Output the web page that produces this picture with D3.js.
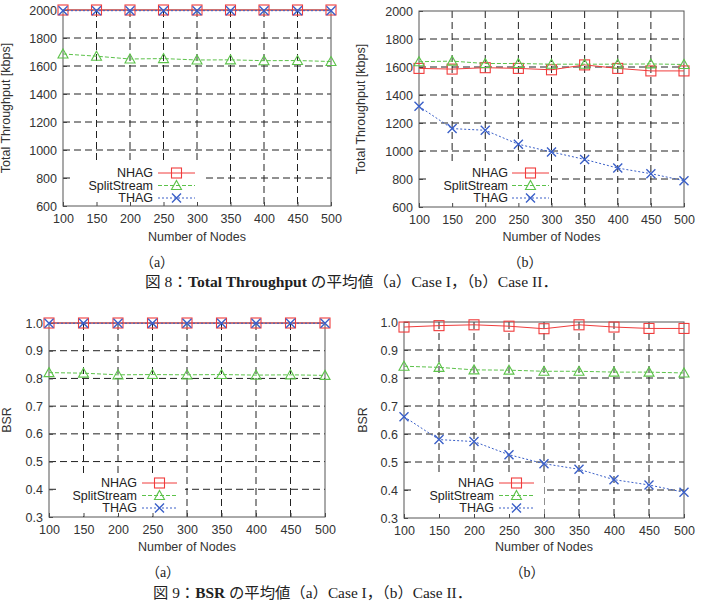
<!DOCTYPE html>
<html>
<head>
<meta charset="utf-8">
<script src="https://cdn.jsdelivr.net/npm/d3@7"></script>
<style>
body{margin:0;background:#fff;}
svg{display:block;}
</style>
</head>
<body>
<script>
var W = 702, H = 615;

var nodes = [100,150,200,250,300,350,400,450,500];
var seriesNames = ["NHAG","SplitStream","THAG"];

// Fig 8 (a) Case I
var thrA_nhag  = [2000,2000,2000,2000,2000,2000,2000,2000,2000];
var thrA_split = [1686,1670,1650,1653,1643,1644,1638,1639,1632];
var thrA_thag  = [1995,1995,1995,1995,1995,1995,1995,1995,1995];
// Fig 8 (b) Case II
var thrB_nhag  = [1590,1585,1595,1590,1580,1615,1590,1572,1572];
var thrB_split = [1638,1642,1625,1625,1620,1620,1620,1622,1618];
var thrB_thag  = [1319,1160,1148,1048,993,940,878,838,788];
// Fig 9 (a) Case I
var bsrA_nhag  = [1.0,1.0,1.0,1.0,1.0,1.0,1.0,1.0,1.0];
var bsrA_split = [0.821,0.819,0.813,0.814,0.813,0.814,0.812,0.813,0.811];
var bsrA_thag  = [0.999,0.999,0.999,0.999,0.999,0.999,0.999,0.999,0.999];
// Fig 9 (b) Case II
var bsrB_nhag  = [0.982,0.987,0.99,0.985,0.976,0.99,0.982,0.977,0.977];
var bsrB_split = [0.842,0.838,0.829,0.828,0.824,0.824,0.821,0.821,0.818];
var bsrB_thag  = [0.662,0.580,0.573,0.526,0.494,0.474,0.437,0.418,0.392];

var thrTicks = [600,800,1000,1200,1400,1600,1800,2000];
var bsrTicks = [0.3,0.4,0.5,0.6,0.7,0.8,0.9,1.0];

var colors = {"NHAG":"#f03c3c","SplitStream":"#5cc24a","THAG":"#3a5fc8"};
var dashes = {"NHAG":null,"SplitStream":"4,2","THAG":"2,2"};

var svg = d3.select("body").append("svg")
  .attr("width", W).attr("height", H);

var sans = "Liberation Sans, Arial, sans-serif";

function marker(g, name, x, y){
  var c = colors[name];
  if(name=="NHAG"){
    g.append("rect").attr("x",x-5).attr("y",y-5).attr("width",10).attr("height",10)
     .attr("fill","none").attr("stroke",c).attr("stroke-width",1.1);
  } else if(name=="SplitStream"){
    g.append("path").attr("d","M"+x+","+(y-5)+"L"+(x+5)+","+(y+4)+"L"+(x-5)+","+(y+4)+"Z")
     .attr("fill","none").attr("stroke",c).attr("stroke-width",1.1);
  } else {
    g.append("path").attr("d","M"+(x-4.5)+","+(y-4.5)+"L"+(x+4.5)+","+(y+4.5)+"M"+(x+4.5)+","+(y-4.5)+"L"+(x-4.5)+","+(y+4.5))
     .attr("stroke",c).attr("stroke-width",1.4);
  }
}

function panel(p){
  var g = svg.append("g");
  var x = d3.scaleLinear().domain([100,500]).range([p.l,p.r]);
  var y = d3.scaleLinear().domain(p.ydom).range([p.b,p.t]);

  // grid
  g.selectAll(".hg").data(p.yticks.slice(1,-1)).enter().append("line")
   .attr("x1",p.l).attr("x2",p.r).attr("y1",function(d){return y(d)}).attr("y2",function(d){return y(d)})
   .attr("stroke","#222").attr("stroke-width",1).attr("stroke-dasharray","7,4");
  g.selectAll(".vg").data(nodes.slice(1,-1)).enter().append("line")
   .attr("x1",function(d){return x(d)}).attr("x2",function(d){return x(d)}).attr("y1",p.t).attr("y2",p.b)
   .attr("stroke","#222").attr("stroke-width",1).attr("stroke-dasharray","7,4");

  // legend box (opaque)
  var lg = p.leg;
  g.append("rect").attr("x",lg.x0).attr("y",lg.y0).attr("width",lg.x1-lg.x0).attr("height",p.b-lg.y0-1)
   .attr("fill","#fff");

  // axes
  var yAxis = d3.axisLeft(y).tickValues(p.yticks).tickSize(-4).tickPadding(6).tickFormat(p.fmt);
  var xAxis = d3.axisBottom(x).tickValues(nodes).tickSize(-4).tickPadding(8);
  var ya = g.append("g").attr("transform","translate("+p.l+",0)").call(yAxis);
  var xa = g.append("g").attr("transform","translate(0,"+p.b+")").call(xAxis);
  [ya,xa].forEach(function(a){
    a.select(".domain").remove();
    a.selectAll("line").attr("stroke","#444");
    a.selectAll("text").attr("font-family",sans).attr("font-size","12.5px").attr("fill","#333");
  });
  g.append("rect").attr("x",p.l).attr("y",p.t).attr("width",p.r-p.l).attr("height",p.b-p.t)
   .attr("fill","none").attr("stroke","#555").attr("stroke-width",1);

  // series
  var line = d3.line().x(function(d,i){return x(nodes[i])}).y(function(d){return y(d)});
  p.series.forEach(function(s,k){
    var name = seriesNames[k];
    g.append("path").datum(s).attr("d",line).attr("fill","none")
     .attr("stroke",colors[name]).attr("stroke-width",1)
     .attr("stroke-dasharray",dashes[name]);
    s.forEach(function(v,i){ marker(g,name,x(nodes[i]),y(v)); });
  });

  // legend entries
  seriesNames.forEach(function(name,k){
    var yy = lg.row0 + k*12.5;
    g.append("text").attr("x",lg.tx).attr("y",yy).attr("dy","0.35em").attr("text-anchor","end")
     .attr("font-family",sans).attr("font-size","12.5px").attr("fill","#222").text(name);
    g.append("line").attr("x1",lg.sx0).attr("x2",lg.sx1).attr("y1",yy).attr("y2",yy)
     .attr("stroke",colors[name]).attr("stroke-width",1).attr("stroke-dasharray",dashes[name]);
    marker(g,name,(lg.sx0+lg.sx1)/2,yy);
  });

  // axis titles
  g.append("text").attr("x",(p.l+p.r)/2).attr("y",p.xt).attr("dy","0.35em").attr("text-anchor","middle")
   .attr("font-family",sans).attr("font-size","12.5px").attr("fill","#333").text("Number of Nodes");
  g.append("text").attr("transform","translate("+p.yx+","+((p.t+p.b)/2)+") rotate(-90)")
   .attr("dy","0.35em").attr("text-anchor","middle")
   .attr("font-family",sans).attr("font-size","12.5px").attr("fill","#333").text(p.ytitle);
}

var fThr = d3.format("d"), fBsr = d3.format(".1f");

panel({l:63,r:331,t:10,b:206,ydom:[600,2000],yticks:thrTicks,fmt:fThr,xt:237,yx:6,
  ytitle:"Total Throughput [kbps]",series:[thrA_nhag,thrA_split,thrA_thag],
  leg:{x0:70,x1:202,y0:160,row0:173,tx:153,sx0:158,sx1:195}});
panel({l:419,r:684,t:11,b:207,ydom:[600,2000],yticks:thrTicks,fmt:fThr,xt:237,yx:361,
  ytitle:"Total Throughput [kbps]",series:[thrB_nhag,thrB_split,thrB_thag],
  leg:{x0:426,x1:551,y0:161,row0:173,tx:508,sx0:512,sx1:549}});
panel({l:49,r:325,t:323,b:517,ydom:[0.3,1.0],yticks:bsrTicks,fmt:fBsr,xt:547,yx:7,
  ytitle:"BSR",series:[bsrA_nhag,bsrA_split,bsrA_thag],
  leg:{x0:56,x1:185,y0:475,row0:483,tx:137,sx0:142,sx1:177}});
panel({l:404,r:684,t:322,b:518,ydom:[0.3,1.0],yticks:bsrTicks,fmt:fBsr,xt:547,yx:363,
  ytitle:"BSR",series:[bsrB_nhag,bsrB_split,bsrB_thag],
  leg:{x0:411,x1:544,y0:475,row0:483,tx:494,sx0:499,sx1:534}});

// captions
var serif = "Liberation Serif, Noto Sans CJK JP, serif";
function sub(x,y,t){
  svg.append("text").attr("x",x).attr("y",y).attr("dy","0.35em").attr("text-anchor","middle")
   .attr("font-family",serif).attr("font-size","14px").attr("fill","#222").text(t);
}
sub(157,262,"（a）"); sub(525,262,"（b）");
sub(163,572,"（a）"); sub(527,572,"（b）");

function caption(x,y,w,num,bold,rest){
  var t = svg.append("text").attr("x",x).attr("y",y).attr("dy","0.35em")
   .attr("font-family",serif).attr("font-size","15px").attr("fill","#222")
   .attr("textLength",w).attr("lengthAdjust","spacingAndGlyphs");
  t.append("tspan").text("図 "+num+"：");
  t.append("tspan").attr("font-weight","bold").text(bold);
  t.append("tspan").text(rest);
}
caption(145,282,413,"8","Total Throughput"," の平均値（a）Case I，（b）Case II．");
caption(153,593,319,"9","BSR"," の平均値（a）Case I，（b）Case II．");
</script>
</body>
</html>
